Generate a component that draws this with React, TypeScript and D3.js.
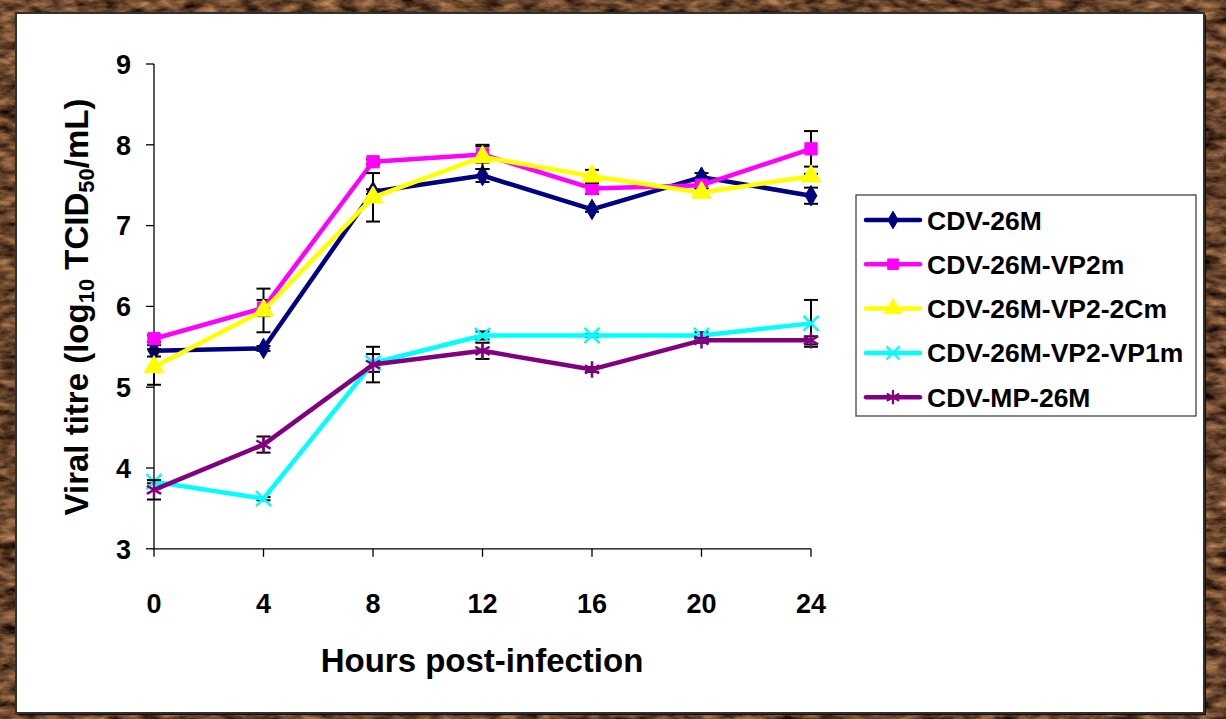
import React from "react";
import * as d3 from "d3";

// Hours post-infection (category positions on the x axis)
const hours = [0, 4, 8, 12, 16, 20, 24];
const yTicks = [3, 4, 5, 6, 7, 8, 9];

// Mean viral titres (log10 TCID50/mL) and error-bar half widths
const cdv26M = [5.45, 5.48, 7.42, 7.62, 7.20, 7.60, 7.37];
const cdv26MErr = [0.07, 0.03, 0.03, 0.08, 0.03, 0.05, 0.1];
const cdvVP2m = [5.60, 5.98, 7.79, 7.88, 7.46, 7.50, 7.95];
const cdvVP2mErr = [0.04, 0.1, 0.03, 0.1, 0.07, 0.04, 0.22];
const cdvVP22Cm = [5.25, 5.95, 7.35, 7.85, 7.61, 7.41, 7.61];
const cdvVP22CmErr = [0.22, 0.27, 0.3, 0.15, 0.08, 0.04, 0.03];
const cdvVP2VP1m = [3.83, 3.62, 5.30, 5.64, 5.64, 5.64, 5.79];
const cdvVP2VP1mErr = [0.02, 0.02, 0.11, 0.05, 0.02, 0.04, 0.29];
const cdvMP26M = [3.73, 4.29, 5.28, 5.45, 5.22, 5.58, 5.58];
const cdvMP26MErr = [0.12, 0.1, 0.22, 0.1, 0.03, 0.03, 0.05];

const seriesNames = ["CDV-26M", "CDV-26M-VP2m", "CDV-26M-VP2-2Cm", "CDV-26M-VP2-VP1m", "CDV-MP-26M"];
const seriesColors = ["#000080", "#ff00ff", "#ffff00", "#00ffff", "#800080"];

type Series = {
  name: string;
  color: string;
  values: number[];
  errors: number[];
  symbol: d3.SymbolType;
  size: number;
  filled: boolean;
};

const series: Series[] = [
  { name: seriesNames[0], color: seriesColors[0], values: cdv26M, errors: cdv26MErr, symbol: d3.symbolDiamond, size: 120, filled: true },
  { name: seriesNames[1], color: seriesColors[1], values: cdvVP2m, errors: cdvVP2mErr, symbol: d3.symbolSquare, size: 150, filled: true },
  { name: seriesNames[2], color: seriesColors[2], values: cdvVP22Cm, errors: cdvVP22CmErr, symbol: d3.symbolTriangle, size: 170, filled: true },
  { name: seriesNames[3], color: seriesColors[3], values: cdvVP2VP1m, errors: cdvVP2VP1mErr, symbol: d3.symbolX, size: 150, filled: false },
  { name: seriesNames[4], color: seriesColors[4], values: cdvMP26M, errors: cdvMP26MErr, symbol: d3.symbolAsterisk, size: 190, filled: false },
];

const W = 1226;
const H = 719;
const FONT = "'Liberation Sans', Arial, Helvetica, sans-serif";

export default function App() {
  const x = d3.scaleLinear().domain([0, 24]).range([154, 811]);
  const y = d3.scaleLinear().domain([3, 9]).range([548.8, 64]);

  const line = d3
    .line<number>()
    .x((_, i) => x(hours[i]))
    .y((v) => y(v));

  const symbolPath = (s: Series, scale = 1) => d3.symbol().type(s.symbol).size(s.size * scale)() as string;

  const legendX = 856;
  const legendY = 195;
  const legendRowH = 44.3;

  return (
    <svg
      width={W}
      height={H}
      style={{ position: "fixed", left: 0, top: 0, display: "block" }}
      fontFamily={FONT}
    >
      <defs>
        <filter id="wood" x="0" y="0" width="100%" height="100%" colorInterpolationFilters="sRGB">
          <feTurbulence type="fractalNoise" baseFrequency="0.05 0.12" numOctaves={5} seed={7} result="n" />
          <feColorMatrix
            in="n"
            type="matrix"
            values="0.95 0 0 0 -0.07  0.72 0 0 0 -0.09  0.5 0 0 0 -0.08  0 0 0 0 1"
          />
        </filter>
      </defs>

      {/* textured frame */}
      <rect x={0} y={0} width={W} height={H} fill="#5a3e29" />
      <rect x={0} y={0} width={W} height={H} filter="url(#wood)" />

      {/* drop shadow and white panel */}
      <rect x={18} y={15} width={1188} height={700} fill="#140e0a" />
      <rect x={16} y={13} width={1188} height={700} fill="#ffffff" stroke="#303030" strokeWidth={2} />

      {/* y axis */}
      <line x1={x(0)} x2={x(0)} y1={y(9)} y2={y(3)} stroke="#000" strokeWidth={1.3} />
      {yTicks.map((t) => (
        <g key={`yt${t}`}>
          <line x1={x(0) - 8} x2={x(0)} y1={y(t)} y2={y(t)} stroke="#000" strokeWidth={1.3} />
          <text x={131} y={y(t)} dy="0.36em" textAnchor="end" fontSize={27} fontWeight="bold">
            {t}
          </text>
        </g>
      ))}

      {/* x axis */}
      <line x1={x(0)} x2={x(24)} y1={y(3)} y2={y(3)} stroke="#000" strokeWidth={1.3} />
      {hours.map((h) => (
        <g key={`xt${h}`}>
          <line x1={x(h)} x2={x(h)} y1={y(3)} y2={y(3) + 8} stroke="#000" strokeWidth={1.3} />
          <text x={x(h)} y={613} textAnchor="middle" fontSize={27} fontWeight="bold">
            {h}
          </text>
        </g>
      ))}

      {/* axis titles */}
      <text x={482} y={672} textAnchor="middle" fontSize={33} fontWeight="bold">
        Hours post-infection
      </text>
      <text transform={`translate(88, 307) rotate(-90)`} textAnchor="middle" fontSize={33} fontWeight="bold">
        Viral titre (log
        <tspan fontSize={22} dy={6}>10</tspan>
        <tspan dy={-6}> TCID</tspan>
        <tspan fontSize={22} dy={6}>50</tspan>
        <tspan dy={-6}>/mL)</tspan>
      </text>

      {/* series: error bars, line, markers */}
      {series.map((s) => (
        <g key={s.name}>
          {s.values.map((v, i) => {
            const cx = x(hours[i]);
            const top = y(v + s.errors[i]);
            const bot = y(v - s.errors[i]);
            return (
              <g key={`e${i}`} stroke="#000" strokeWidth={2}>
                <line x1={cx} x2={cx} y1={top} y2={bot} />
                <line x1={cx - 7} x2={cx + 7} y1={top} y2={top} />
                <line x1={cx - 7} x2={cx + 7} y1={bot} y2={bot} />
              </g>
            );
          })}
          <path d={line(s.values) as string} fill="none" stroke={s.color} strokeWidth={4.5} strokeLinejoin="round" />
          {s.values.map((v, i) => (
            <path
              key={`m${i}`}
              d={symbolPath(s)}
              transform={`translate(${x(hours[i])},${y(v)})`}
              fill={s.filled ? s.color : "none"}
              stroke={s.color}
              strokeWidth={s.filled ? 1 : 2.5}
            />
          ))}
        </g>
      ))}

      {/* legend */}
      <rect x={legendX} y={legendY} width={340} height={221} fill="#fff" stroke="#444" strokeWidth={1.3} />
      {series.map((s, i) => {
        const cy = legendY + 25 + i * legendRowH;
        return (
          <g key={`lg${s.name}`}>
            <line x1={866} x2={920} y1={cy} y2={cy} stroke={s.color} strokeWidth={4.5} strokeLinecap="round" />
            <path
              d={symbolPath(s, 0.75)}
              transform={`translate(893,${cy})`}
              fill={s.filled ? s.color : "none"}
              stroke={s.color}
              strokeWidth={s.filled ? 1 : 2.2}
            />
            <text x={927} y={cy} dy="0.36em" fontSize={26.5} fontWeight="bold">
              {s.name}
            </text>
          </g>
        );
      })}
    </svg>
  );
}
